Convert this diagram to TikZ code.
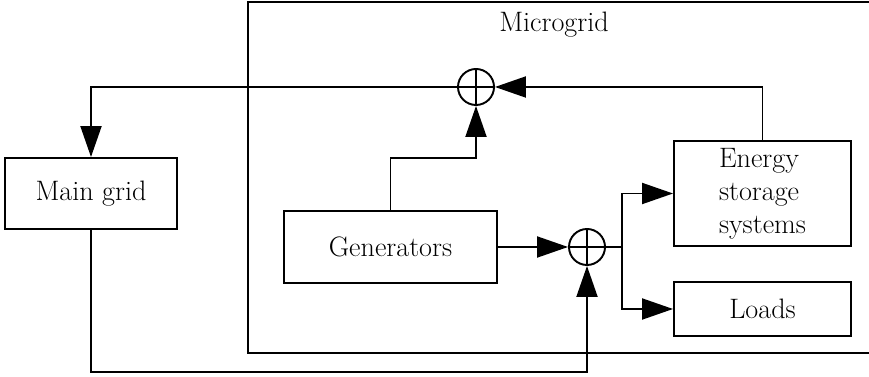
\documentclass[tikz,border=0pt]{standalone}
\usetikzlibrary{arrows.meta}

\begin{document}
\begin{tikzpicture}[line width=1.1pt,>={Triangle[length=0.62cm,width=0.42cm]},
  box/.style={draw,rectangle,inner sep=0pt},
  sumnode/.style={draw,circle,minimum size=0.72cm,inner sep=0pt,
    path picture={\draw (path picture bounding box.north) -- (path picture bounding box.south)
      (path picture bounding box.west) -- (path picture bounding box.east);}},
  every node/.style={font=\fontsize{16}{18.8}\selectfont}]
\useasboundingbox (0,0) rectangle (17.38,7.54);
% ---------- microgrid frame ----------
\draw (4.96,0.48) rectangle (17.70,7.50);
\node (mglabel) at (11.08,7.04) {Microgrid};
% ---------- blocks ----------
\node[box,minimum width=3.44cm,minimum height=1.42cm] (main) at (1.82,3.67) {Main grid};
\node[box,minimum width=4.26cm,minimum height=1.44cm] (gen) at (7.81,2.60) {Generators};
\node[box,minimum width=3.54cm,minimum height=2.10cm,align=left] (ess) at (15.25,3.67) {Energy\\storage\\systems};
\node[box,minimum width=3.54cm,minimum height=1.08cm] (loads) at (15.25,1.36) {Loads};
% summing points
\node[sumnode] (sumtop) at (9.52,5.80) {};
\node[sumnode] (sumbot) at (11.74,2.60) {};
\coordinate (split) at (12.44,2.60);
% ---------- flows ----------
\draw[->] (sumtop.west) -| (main.north);
\draw[->] (ess.north) |- (sumtop.east);
\draw[->] (gen.north) -- ++(0,1.04) -| (sumtop.south);
\draw[->] (gen.east) -- (sumbot.west);
\draw[->] (main.south) -- ++(0,-2.84) -| (sumbot.south);
\draw (sumbot.east) -- (split);
\draw[->] (split) |- (ess.west);
\draw[->] (split) |- (loads.west);
\end{tikzpicture}
\end{document}
